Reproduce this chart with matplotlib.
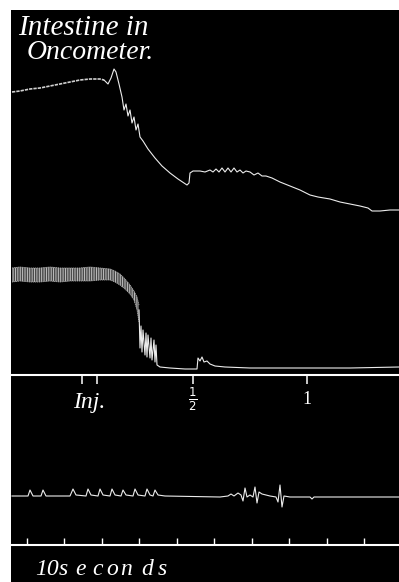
import matplotlib
matplotlib.use("Agg")
import matplotlib.pyplot as plt

# ---- data (x: drum position, y: pen height, pixel-like units) ----
# Upper record: intestine volume (oncometer)
vol_x = [12, 20, 30, 40, 50, 60, 70, 80, 90, 100, 104, 108, 111, 114, 116, 119, 122, 124, 126,
         128, 130, 132, 134, 136, 138, 140, 143, 148, 155, 162, 170, 178, 187, 189, 190, 193,
         200, 205, 210, 213, 216, 219, 222, 225, 228, 231, 234, 237, 240, 243, 246, 250, 254,
         258, 262, 266, 272, 280, 290, 300, 310, 318, 330, 340, 350, 360, 368, 372, 380, 390, 399]
vol_y = [92, 91, 89, 88, 86, 84, 82, 80, 79, 79, 80, 84, 78, 69, 72, 84, 97, 110, 104,
         116, 110, 123, 117, 130, 124, 137, 141, 149, 158, 166, 173, 179, 185, 183, 173, 171,
         171, 172, 170, 172, 169, 172, 168, 172, 168, 172, 168, 172, 170, 173, 171, 172, 175,
         173, 176, 176, 178, 182, 186, 190, 195, 197, 199, 202, 204, 206, 208, 211, 211, 210, 210]

# Lower record: blood pressure — dense oscillating band (envelopes), then single line
bp_band_x = [12, 20, 30, 40, 50, 60, 70, 80, 90, 100, 110, 115, 120, 125, 130, 134, 137, 139]
bp_band_hi = [268, 267, 268, 268, 267, 268, 268, 268, 267, 268, 269, 271, 274, 279, 285, 291, 297, 305]
bp_band_lo = [282, 281, 282, 282, 281, 282, 281, 281, 281, 280, 280, 282, 285, 289, 294, 300, 310, 322]
bp_x = [139, 140, 141, 142, 143, 145, 146, 147, 148, 150, 151, 152, 154, 155, 156, 157, 160,
        170, 185, 197, 198, 200, 202, 204, 207, 210, 215, 225, 250, 300, 350, 399]
bp_y = [310, 348, 326, 352, 330, 355, 333, 357, 335, 358, 338, 360, 340, 362, 345, 365, 367,
        368, 369, 369, 358, 361, 357, 362, 361, 364, 366, 367, 368, 368, 368, 367]

# Signal line marks (injection, 1/2, 1)
signal_marks = [82, 97, 193, 307]
signal_labels = ["Inj.", "\u00bd", "1"]

# Third record: intestinal movements
mov_x = [12, 28, 30, 33, 41, 43, 46, 70, 73, 76, 86, 88, 91, 98, 100, 103, 110, 112, 115, 121,
         123, 126, 133, 135, 138, 145, 147, 150, 153, 155, 158, 165, 220, 228, 231, 234, 238,
         241, 243, 245, 247, 250, 253, 255, 257, 259, 262, 266, 270, 276, 278, 280, 282, 284,
         290, 310, 312, 314, 399]
mov_y = [496, 496, 490, 496, 496, 490, 496, 496, 489, 495, 496, 489, 495, 496, 489, 495, 496,
         489, 495, 496, 490, 495, 496, 489, 495, 496, 489, 495, 496, 490, 495, 496, 497, 496,
         494, 496, 493, 495, 501, 488, 497, 495, 497, 487, 503, 492, 494, 495, 496, 497, 502,
         485, 507, 496, 497, 497, 499, 497, 497]

# Time marks every 10 seconds
time_marks = [27, 64, 102, 139, 177, 214, 252, 289, 327, 364]

INK = "#ececec"
SERIF = ["Liberation Serif", "DejaVu Serif"]

plt.rcParams["hatch.linewidth"] = 0.6

fig = plt.figure(figsize=(3.99, 5.82), dpi=100)
fig.patch.set_facecolor("white")
ax = fig.add_axes([11 / 399, 0, 388 / 399, 572 / 582])
ax.set_facecolor("black")
ax.set_xlim(11, 399)
ax.set_ylim(582, 10)
ax.set_xticks([])
ax.set_yticks([])
for s in ax.spines.values():
    s.set_visible(False)

# Upper record
ax.plot(vol_x[:11], vol_y[:11], color="#d0d0d0", lw=1.2, ls=(0, (2, 0.6)))
ax.plot(vol_x[10:], vol_y[10:], color=INK, lw=0.8)

# Lower record
ax.fill_between(bp_band_x, bp_band_lo, bp_band_hi, facecolor="#4a4a4a",
                edgecolor="#d0d0d0", hatch="|||||||", lw=0)
ax.plot(bp_band_x, bp_band_hi, color="#a8a8a8", lw=0.6, ls=(0, (1.5, 0.8)))
ax.plot(bp_band_x, bp_band_lo, color="#a8a8a8", lw=0.6, ls=(0, (1.5, 0.8)))
ax.plot(bp_x, bp_y, color=INK, lw=0.8)

# Signal line
ax.axhline(375, color="white", lw=1.5)
ax.vlines(signal_marks, 375, 384, color="white", lw=1.1)
ax.text(73, 408, signal_labels[0], family=SERIF, style="italic", fontsize=17,
        color="white", va="baseline")
ax.text(193, 399, r"$\frac{1}{2}$", fontsize=12, color="white", ha="center", va="center")
ax.text(307, 404, signal_labels[2], family=SERIF, fontsize=13, color="white",
        ha="center", va="baseline")

# Movements record
ax.plot(mov_x, mov_y, color=INK, lw=0.8)

# Time line
ax.axhline(545, color="white", lw=1.5)
ax.vlines(time_marks, 538, 545, color="white", lw=1.0)

# Texts
ax.text(18, 35, "Intestine in", family=SERIF, style="italic", fontsize=21,
        color="white", va="baseline")
ax.text(27, 59, "Oncometer.", family=SERIF, style="italic", fontsize=20,
        color="white", va="baseline")
for ch, xc in zip(["10", "s", "e", "c", "o", "n", "d", "s"],
                  [35, 59, 75, 92, 106, 120, 141, 158]):
    ax.text(xc, 575, ch, family=SERIF, style="italic", fontsize=17, color="white",
            va="baseline")

fig.savefig("out.png", dpi=100, facecolor="white")
